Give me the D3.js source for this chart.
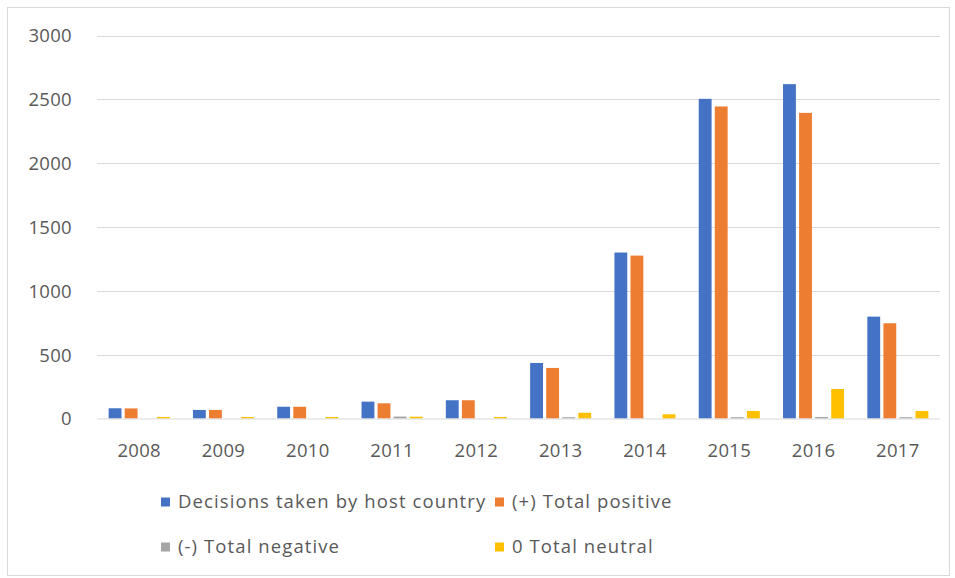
<!DOCTYPE html>
<html>
<head>
<meta charset="utf-8">
<script src="https://cdn.jsdelivr.net/npm/d3@7"></script>
<style>
  html, body { margin: 0; padding: 0; background: #fff; }
  svg text { font-family: "Open Sans", "Noto Sans", sans-serif; fill: #595959; }
</style>
</head>
<body>
<svg id="chart" width="955" height="578"></svg>
<script>
// Decisions per year, by outcome
const years = ["2008", "2009", "2010", "2011", "2012", "2013", "2014", "2015", "2016", "2017"];
const decisionsTaken = [80, 67, 92, 132, 143, 435, 1300, 2504, 2619, 798];
const totalPositive  = [79, 67, 92, 119, 143, 396, 1276, 2444, 2394, 746];
const totalNegative  = [0, 0, 0, 15, 0, 10, 0, 10, 12, 10];
const totalNeutral   = [12, 12, 12, 14, 12, 45, 33, 59, 231, 59];
const yTicks = [0, 500, 1000, 1500, 2000, 2500, 3000];

const seriesNames = ["Decisions taken by host country", "(+) Total positive", "(-) Total negative", "0 Total neutral"];
const seriesValues = [decisionsTaken, totalPositive, totalNegative, totalNeutral];
const seriesColors = ["#4472C4", "#ED7D31", "#A5A5A5", "#FFC000"];

const svg = d3.select("#chart");

// outer frame
svg.append("rect")
  .attr("x", 7.5).attr("y", 7.5)
  .attr("width", 942).attr("height", 568)
  .attr("fill", "#fff").attr("stroke", "#d9d9d9");

const plot = { left: 97, right: 940, top: 35.5, bottom: 418.5 };

const y = d3.scaleLinear().domain([0, 3000]).range([plot.bottom, plot.top]);
const x0 = d3.scaleBand().domain(years).range([plot.left, plot.right])
  .paddingInner(0.276).paddingOuter(0.138);
const x1 = d3.scaleBand().domain(d3.range(seriesNames.length))
  .range([0, x0.bandwidth()]).paddingInner(0.2);

// gridlines
svg.append("g")
  .selectAll("line")
  .data(yTicks.filter(t => t > 0))
  .join("line")
  .attr("x1", plot.left).attr("x2", plot.right)
  .attr("y1", d => Math.round(y(d)) + 0.5).attr("y2", d => Math.round(y(d)) + 0.5)
  .attr("stroke", "#d9d9d9").attr("stroke-width", 1);

// y-axis labels
const yAxis = d3.axisLeft(y).tickValues(yTicks).tickFormat(d3.format("d")).tickSize(0).tickPadding(0);
const gy = svg.append("g").attr("transform", `translate(72,0)`).call(yAxis);
gy.select(".domain").remove();
gy.selectAll("text")
  .style("font-size", "18.5px")
  .style("letter-spacing", "0.3px")
  .attr("fill", "#595959")
  .attr("dy", "0.35em");

// bars
const groups = svg.append("g")
  .selectAll("g")
  .data(years)
  .join("g")
  .attr("transform", d => `translate(${x0(d)},0)`);

groups.selectAll("rect")
  .data((yr, i) => seriesValues.map((vals, s) => ({ s, v: vals[i] })))
  .join("rect")
  .attr("x", d => x1(d.s))
  .attr("width", x1.bandwidth())
  .attr("y", d => y(d.v))
  .attr("height", d => plot.bottom - y(d.v))
  .attr("fill", d => seriesColors[d.s]);

// x-axis baseline
svg.append("line")
  .attr("x1", plot.left).attr("x2", plot.right)
  .attr("y1", plot.bottom + 0.5).attr("y2", plot.bottom + 0.5)
  .attr("stroke", "#d9d9d9").attr("stroke-width", 1);

// x-axis labels
const xAxis = d3.axisBottom(x0).tickSize(0).tickPadding(0);
const gx = svg.append("g").attr("transform", `translate(0,${plot.bottom})`).call(xAxis);
gx.select(".domain").remove();
gx.selectAll("text")
  .style("font-size", "18.5px")
  .style("letter-spacing", "0.3px")
  .attr("fill", "#595959")
  .attr("y", 0)
  .attr("dy", "38px");

// legend
const legendItems = [
  { i: 0, x: 161, y: 502 },
  { i: 1, x: 495, y: 502 },
  { i: 2, x: 161, y: 547 },
  { i: 3, x: 495, y: 547 }
];
const lg = svg.append("g").selectAll("g").data(legendItems).join("g")
  .attr("transform", d => `translate(${d.x},${d.y})`);
lg.append("rect")
  .attr("x", 0).attr("y", -4.5).attr("width", 9).attr("height", 9)
  .attr("fill", d => seriesColors[d.i]);
lg.append("text")
  .attr("x", 17).attr("y", 0).attr("dy", "0.35em")
  .style("font-size", "18.5px")
  .style("letter-spacing", "1.1px")
  .text(d => seriesNames[d.i]);
</script>
</body>
</html>
